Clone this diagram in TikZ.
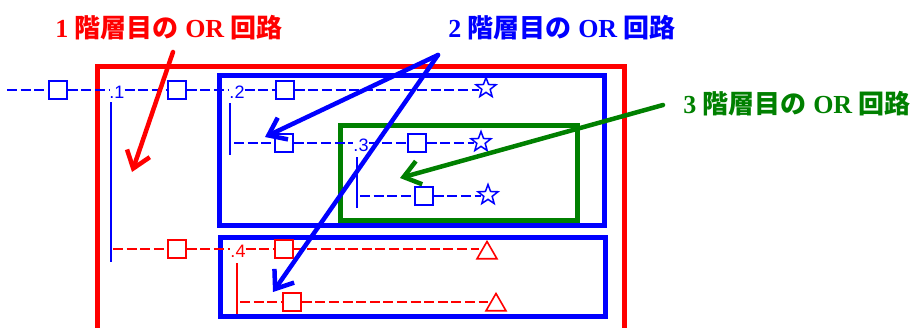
\documentclass[tikz,border=0pt]{standalone}
\usepackage{fontspec}
\setmainfont{Liberation Serif}
\newfontfamily\cjk{Noto Sans CJK JP}
\newfontfamily\diag{Liberation Sans}
\usetikzlibrary{arrows.meta,shapes.geometric}
\definecolor{cred}{RGB}{255,0,0}
\definecolor{cblue}{RGB}{0,0,255}
\definecolor{cgreen}{RGB}{0,128,0}
\begin{document}
\begin{tikzpicture}[x=1pt,y=-1pt,
  box/.style={line width=5pt},
  sq/.style={draw,line width=1.5pt,minimum size=18pt,inner sep=0pt},
  st/.style={draw,star,star points=5,star point ratio=2.4,minimum size=21pt,inner sep=0pt,line width=1.5pt},
  tri/.style={draw,regular polygon,regular polygon sides=3,minimum size=23pt,inner sep=0pt,line width=1.6pt},
  dl/.style={line width=1.4pt,dash pattern=on 10pt off 3.6pt},
  vl/.style={line width=1.4pt},
  num/.style={font=\diag\fontsize{18}{18}\selectfont,inner sep=0pt},
  lbl/.style={font=\bfseries\fontsize{26}{26}\selectfont,inner sep=0pt},
  arr/.style={line width=4.5pt,line cap=round,-{Straight Barb[length=16pt,width=24pt]}}
]
\useasboundingbox (0,0) rectangle (915,327);

% boxes
\draw[box,cred] (97,330) -- (97,66) -- (624,66) -- (624,330);
\draw[box,cblue] (219,75) rectangle (604,225);
\draw[box,cgreen] (340,125) rectangle (577,220);
\draw[box,cblue] (220,237) rectangle (605,316);

% row 1 (blue)
\coordinate (r1s) at (7,90);
\node[sq,cblue] (a1) at (58,90) {};
\node[num,cblue] (n1) at (117,92) {.1};
\node[sq,cblue] (a2) at (177,90) {};
\node[num,cblue] (n2) at (237,92) {.2};
\node[sq,cblue] (a3) at (285,90) {};
\node[st,cblue] (s1) at (486,88) {};
\begin{scope}[dl,cblue]
\draw (r1s) -- (a1.west);
\draw (a1.east) -- (a1.east -| n1.west);
\draw (n1.east |- a2.west) -- (a2.west);
\draw (a2.east) -- (a2.east -| n2.west);
\draw (n2.east |- a3.west) -- (a3.west);
\draw (a3.east) -- (a3.east -| s1.west);
\end{scope}
\coordinate (v1t) at (111,102);
\coordinate (v1b) at (111,262);
\draw[vl,cblue] (v1t) -- (v1b);

% row 2 (blue)
\coordinate (v2t) at (230,103);
\coordinate (v2b) at (230,155);
\draw[vl,cblue] (v2t) -- (v2b);
\coordinate (r2s) at (234,143);
\node[sq,cblue] (c1) at (284,143) {};
\node[num,cblue] (n3) at (361,145) {.3};
\node[sq,cblue] (c2) at (417,143) {};
\node[st,cblue] (s2) at (481,142) {};
\begin{scope}[dl,cblue]
\draw (r2s) -- (c1.west);
\draw (c1.east) -- (c1.east -| n3.west);
\draw (n3.east |- c2.west) -- (c2.west);
\draw (c2.east) -- (c2.east -| s2.west);
\end{scope}

% row 3 (blue)
\coordinate (v3t) at (357,157);
\coordinate (v3b) at (357,208);
\draw[vl,cblue] (v3t) -- (v3b);
\coordinate (r3s) at (360,196);
\node[sq,cblue] (c3) at (424,196) {};
\node[st,cblue] (s3) at (488,195) {};
\begin{scope}[dl,cblue]
\draw (r3s) -- (c3.west);
\draw (c3.east) -- (c3.east -| s3.west);
\end{scope}

% row 4 (red)
\coordinate (r4s) at (113,249);
\node[sq,cred] (b1) at (177,249) {};
\node[num,cred] (n4) at (238,251) {.4};
\node[sq,cred] (b2) at (284,249) {};
\node[tri,cred] (t1) at (487,253) {};
\begin{scope}[dl,cred]
\draw (r4s) -- (b1.west);
\draw (b1.east) -- (b1.east -| n4.west);
\draw (n4.east |- b2.west) -- (b2.west);
\draw (b2.east) -- (b2.east -| t1.west);
\end{scope}

% row 5 (red)
\coordinate (v4t) at (237,263);
\coordinate (v4b) at (237,314);
\draw[vl,cred] (v4t) -- (v4b);
\coordinate (r5s) at (240,302);
\node[sq,cred] (b3) at (292,302) {};
\node[tri,cred] (t2) at (496,305) {};
\begin{scope}[dl,cred]
\draw (r5s) -- (b3.west);
\draw (b3.east) -- (b3.east -| t2.west);
\end{scope}

% labels
\node[lbl,cred] (L1) at (169,28) {1 {\cjk 階層目の} OR {\cjk 回路}};
\node[lbl,cblue] (L2) at (562,28) {2 {\cjk 階層目の} OR {\cjk 回路}};
\node[lbl,cgreen] (L3) at (797,104) {3 {\cjk 階層目の} OR {\cjk 回路}};

% arrows
\coordinate (ra) at (173,52);
\coordinate (rt) at (132,172);
\coordinate (ba) at (438,55);
\coordinate (bt1) at (265,137);
\coordinate (bt2) at (273,292);
\coordinate (ga) at (663,105);
\coordinate (gt) at (400,178);
\draw[arr,cred] (ra) -- (rt);
\draw[arr,cblue] (ba) -- (bt1);
\draw[arr,cblue] (ba) -- (bt2);
\draw[arr,cgreen] (ga) -- (gt);
\end{tikzpicture}
\end{document}
